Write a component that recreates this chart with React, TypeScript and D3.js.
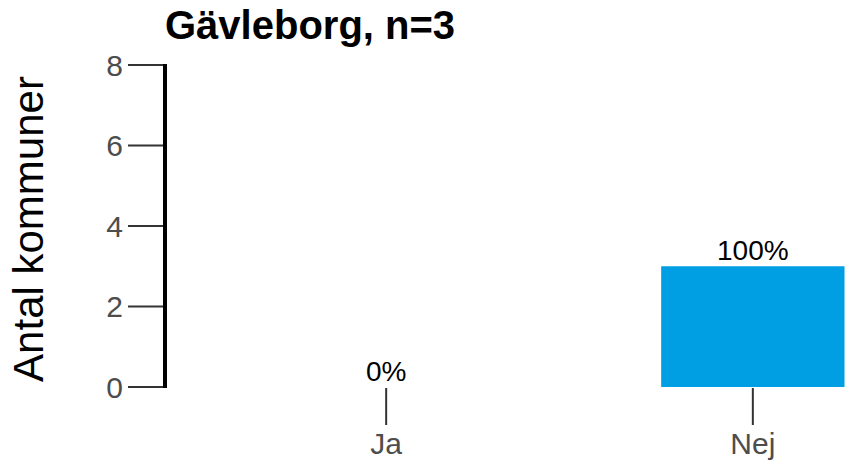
import React from "react";
import * as d3 from "d3";

const categories = ["Ja", "Nej"];
const values = [0, 3];
const labels = ["0%", "100%"];
const yTicks = [0, 2, 4, 6, 8];
const title = "Gävleborg, n=3";
const yTitle = "Antal kommuner";

const W = 854;
const H = 466;
const FONT = "'Liberation Sans', Arial, sans-serif";

export default function App() {
  const y = d3.scaleLinear().domain([0, 8]).range([387, 65]);
  const x = d3
    .scaleBand<string>()
    .domain(categories)
    .range([294.5, 844.5])
    .paddingInner(0.5)
    .paddingOuter(0);
  const axisX = 165;
  const tickLen = 37;
  return (
    <svg
      width={W}
      height={H}
      style={{ position: "absolute", left: 0, top: 0, background: "#fff" }}
      fontFamily={FONT}
    >
      <text x={axisX} y={39} fontSize={40} fontWeight="bold" fill="#000">
        {title}
      </text>
      <text
        transform={`translate(43, 229) rotate(-90)`}
        textAnchor="middle"
        fontSize={42}
        fill="#000"
      >
        {yTitle}
      </text>
      {yTicks.map((t) => (
        <g key={t}>
          <line
            x1={axisX - tickLen}
            x2={axisX}
            y1={y(t)}
            y2={y(t)}
            stroke="#333"
            strokeWidth={2}
          />
          <text
            x={axisX - tickLen - 5}
            y={y(t)}
            dy="0.35em"
            textAnchor="end"
            fontSize={30}
            fill="#4d4d4d"
          >
            {t}
          </text>
        </g>
      ))}
      <line x1={axisX} x2={axisX} y1={y(8) - 1} y2={y(0) + 1} stroke="#000" strokeWidth={4} />
      {categories.map((c, i) => {
        const cx = (x(c) ?? 0) + x.bandwidth() / 2;
        return (
          <g key={c}>
            <rect
              x={x(c)}
              y={y(values[i])}
              width={x.bandwidth()}
              height={y(0) - y(values[i])}
              fill="#009fe3"
            />
            <line
              x1={cx}
              x2={cx}
              y1={y(0) + 1}
              y2={y(0) + 1 + tickLen}
              stroke="#333"
              strokeWidth={2}
            />
            <text x={cx} y={454} textAnchor="middle" fontSize={30} fill="#4d4d4d">
              {c}
            </text>
            <text
              x={cx}
              y={y(values[i]) - 6}
              textAnchor="middle"
              fontSize={28}
              fill="#000"
            >
              {labels[i]}
            </text>
          </g>
        );
      })}
    </svg>
  );
}
